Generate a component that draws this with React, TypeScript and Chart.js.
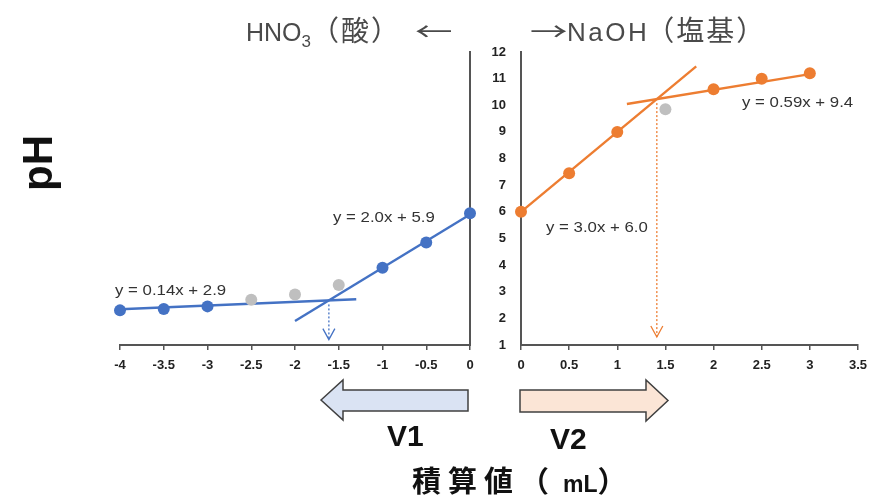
import React, { useEffect, useRef } from "react";
import { Chart, registerables } from "chart.js";
Chart.register(...registerables);

// ---- data ----
const acidVolumes = [-4, -3.5, -3, -2.5, -2, -1.5, -1, -0.5, 0];
const acidPH = [2.3, 2.35, 2.45, 2.7, 2.9, 3.25, 3.9, 4.85, 5.95];
const acidInFit = [true, true, true, false, false, false, true, true, true];

const baseVolumes = [0, 0.5, 1, 1.5, 2, 2.5, 3];
const basePH = [6.0, 7.45, 9.0, 9.85, 10.6, 11.0, 11.2];
const baseInFit = [true, true, true, false, true, true, true];

const acidFitSlopes = [0.14, 2.0];
const acidFitIntercepts = [2.9, 5.9];
const acidFitFrom = [-4, -2.0];
const acidFitTo = [-1.3, 0];
const acidFitLabels = ["y = 0.14x + 2.9", "y = 2.0x + 5.9"];

const baseFitSlopes = [3.0, 0.59];
const baseFitIntercepts = [6.0, 9.4];
const baseFitFrom = [0, 1.1];
const baseFitTo = [1.82, 3];
const baseFitLabels = ["y = 3.0x + 6.0", "y = 0.59x + 9.4"];

const arrowEndPH = [1.2, 1.3];
const phRange = [1, 12];
const acidRange = [-4, 0];
const baseRange = [0, 3.5];
const volumeStep = 0.5;

const BLUE = "#4472C4";
const ORANGE = "#ED7D31";
const GRAY = "#BFBFBF";
const AXIS = "#555555";
const TICK_FONT = { family: "'Liberation Sans', Arial, sans-serif", size: 13, weight: "bold" as const };

function pts(xs: number[], ys: number[], keep: boolean[], want: boolean) {
  return xs.map((x, i) => ({ x, y: ys[i] })).filter((_, i) => keep[i] === want);
}

function fitLine(m: number, b: number, from: number, to: number) {
  return [
    { x: from, y: m * from + b },
    { x: to, y: m * to + b },
  ];
}

const fmt = (v: any) => String(Math.round(Number(v) * 10) / 10);

function arrowPlugin(slopes: number[], intercepts: number[], endPH: number, color: string) {
  return {
    id: "crossArrow",
    afterDatasetsDraw(chart: any) {
      const xs = chart.scales.x;
      const ys = chart.scales.y;
      const xi = (intercepts[1] - intercepts[0]) / (slopes[0] - slopes[1]);
      const yi = slopes[0] * xi + intercepts[0];
      const px = xs.getPixelForValue(xi);
      const py1 = ys.getPixelForValue(yi) + 4;
      const py2 = ys.getPixelForValue(endPH);
      const ctx = chart.ctx;
      ctx.save();
      ctx.strokeStyle = color;
      ctx.lineWidth = 1.3;
      ctx.setLineDash([2, 2]);
      ctx.beginPath();
      ctx.moveTo(px, py1);
      ctx.lineTo(px, py2);
      ctx.stroke();
      ctx.setLineDash([]);
      ctx.beginPath();
      ctx.moveTo(px - 6, py2 - 11);
      ctx.lineTo(px, py2);
      ctx.lineTo(px + 6, py2 - 11);
      ctx.stroke();
      ctx.restore();
    },
  };
}

function buildConfig(
  xs: number[], ys: number[], keep: boolean[], color: string,
  slopes: number[], intercepts: number[], from: number[], to: number[],
  xRange: number[], side: "acid" | "base", endPH: number
): any {
  const datasets: any[] = [
    { data: pts(xs, ys, keep, true), backgroundColor: color, borderColor: color, pointRadius: 6, pointBorderWidth: 0, showLine: false, clip: false },
    { data: pts(xs, ys, keep, false), backgroundColor: GRAY, borderColor: GRAY, pointRadius: 6, pointBorderWidth: 0, showLine: false, clip: false },
  ];
  slopes.forEach((m, i) => {
    datasets.push({
      data: fitLine(m, intercepts[i], from[i], to[i]),
      showLine: true, borderColor: color, borderWidth: 2.4, pointRadius: 0, clip: false,
    });
  });
  const isAcid = side === "acid";
  return {
    type: "scatter",
    data: { datasets },
    options: {
      responsive: false,
      animation: false,
      events: [],
      layout: isAcid
        ? { padding: { left: 120, right: 405, top: 52, bottom: 115 } }
        : { padding: { left: 481, right: 13, top: 52, bottom: 115 } },
      plugins: { legend: { display: false }, tooltip: { enabled: false } },
      scales: {
        x: {
          type: "linear",
          min: xRange[0],
          max: xRange[1],
          ticks: { stepSize: volumeStep, font: TICK_FONT, color: "#222", padding: 8, callback: fmt },
          grid: { display: true, drawOnChartArea: false, drawTicks: true, tickLength: 5, color: AXIS, lineWidth: 1.5 },
          border: { display: true, color: AXIS, width: 2 },
          afterFit: (s: any) => { s.height = 40; },
        },
        y: {
          type: "linear",
          position: isAcid ? "right" : "left",
          min: phRange[0],
          max: phRange[1],
          ticks: { display: !isAcid, stepSize: 1, font: TICK_FONT, color: "#222", padding: 15, callback: fmt },
          grid: { display: false, drawTicks: false },
          border: { display: true, color: AXIS, width: 2 },
          afterFit: (s: any) => { s.width = isAcid ? 0 : 40; },
        },
      },
    },
    plugins: [arrowPlugin(slopes, intercepts, endPH, color)],
  };
}

const textBase: React.CSSProperties = { position: "absolute", whiteSpace: "nowrap", lineHeight: 1 };
const eqStyle: React.CSSProperties = {
  ...textBase, fontFamily: "'Liberation Sans', Arial, sans-serif", fontSize: 15, color: "#333",
  transform: "scaleX(1.12)", transformOrigin: "left center",
};
const arrowGlyph: React.CSSProperties = {
  display: "inline-block", fontFamily: "'Noto Sans CJK JP', sans-serif", fontSize: 25,
  transform: "scaleX(1.5)", transformOrigin: "left center",
};

export default function App() {
  const leftRef = useRef<HTMLCanvasElement>(null);
  const rightRef = useRef<HTMLCanvasElement>(null);

  useEffect(() => {
    const c1 = new Chart(leftRef.current as HTMLCanvasElement, buildConfig(
      acidVolumes, acidPH, acidInFit, BLUE, acidFitSlopes, acidFitIntercepts, acidFitFrom, acidFitTo,
      acidRange, "acid", arrowEndPH[0]));
    const c2 = new Chart(rightRef.current as HTMLCanvasElement, buildConfig(
      baseVolumes, basePH, baseInFit, ORANGE, baseFitSlopes, baseFitIntercepts, baseFitFrom, baseFitTo,
      baseRange, "base", arrowEndPH[1]));
    return () => { c1.destroy(); c2.destroy(); };
  }, []);

  const titleFont = "'Liberation Sans', 'Noto Sans CJK JP', sans-serif";
  const boldFont = "'Liberation Sans', 'Noto Sans CJK JP', sans-serif";
  const cjk = { fontFamily: "'Noto Sans CJK JP', sans-serif", fontSize: 28, letterSpacing: 2 };

  return (
    <div style={{ position: "absolute", left: 0, top: 0, width: 875, height: 500, background: "#fff", overflow: "hidden" }}>
      <canvas ref={leftRef} width={875} height={500} style={{ position: "absolute", left: 0, top: 0 }} />
      <canvas ref={rightRef} width={875} height={500} style={{ position: "absolute", left: 0, top: 0 }} />

      {/* titles */}
      <div style={{ ...textBase, left: 246, top: 17, fontFamily: titleFont, fontSize: 25, color: "#4a4a4a", lineHeight: "25px" }}>
        HNO<span style={{ fontSize: 17, position: "relative", top: 6 }}>3</span>
        <span style={cjk}>（酸）</span>
        <span style={{ ...arrowGlyph, marginLeft: 14 }}>←</span>
      </div>
      <div style={{ ...textBase, left: 530, top: 17, fontFamily: titleFont, fontSize: 25, color: "#4a4a4a", lineHeight: "25px" }}>
        <span style={{ ...arrowGlyph, marginRight: 12 }}>→</span>
        <span style={{ fontSize: 26, letterSpacing: 2.5 }}>NaOH</span>
        <span style={{ ...cjk, marginLeft: -3 }}>（塩基）</span>
      </div>

      {/* pH label */}
      <div style={{ ...textBase, left: 38, top: 163, fontFamily: boldFont, fontWeight: "bold", fontSize: 42, color: "#111",
        transform: "translate(-50%, -50%) rotate(-90deg)" }}>pH</div>

      {/* equation labels */}
      <div style={{ ...eqStyle, left: 115, top: 282 }}>{acidFitLabels[0]}</div>
      <div style={{ ...eqStyle, left: 333, top: 209 }}>{acidFitLabels[1]}</div>
      <div style={{ ...eqStyle, left: 546, top: 219 }}>{baseFitLabels[0]}</div>
      <div style={{ ...eqStyle, left: 742, top: 94 }}>{baseFitLabels[1]}</div>

      {/* direction arrows */}
      <svg width={875} height={500} style={{ position: "absolute", left: 0, top: 0 }}>
        <polygon points="321,400 343,380 343,390 468,390 468,411 343,411 343,420" fill="#DAE3F3" stroke="#404040" strokeWidth={1.5} />
        <polygon points="520,390 646,390 646,380 668,400.5 646,421 646,412 520,412" fill="#FBE5D6" stroke="#404040" strokeWidth={1.5} />
      </svg>

      <div style={{ ...textBase, left: 387, top: 421, fontFamily: boldFont, fontWeight: "bold", fontSize: 30, color: "#111" }}>V1</div>
      <div style={{ ...textBase, left: 550, top: 424, fontFamily: boldFont, fontWeight: "bold", fontSize: 30, color: "#111" }}>V2</div>

      <div style={{ ...textBase, left: 412, top: 465, fontFamily: "'Noto Sans CJK JP', sans-serif", fontWeight: "bold", fontSize: 29, color: "#111" }}>
        <span style={{ letterSpacing: 7 }}>積算値</span>
        <span>（</span>
        <span style={{ fontFamily: "'Liberation Sans', Arial, sans-serif", fontSize: 23, marginLeft: 14 }}>mL</span>
        <span>）</span>
      </div>
    </div>
  );
}
